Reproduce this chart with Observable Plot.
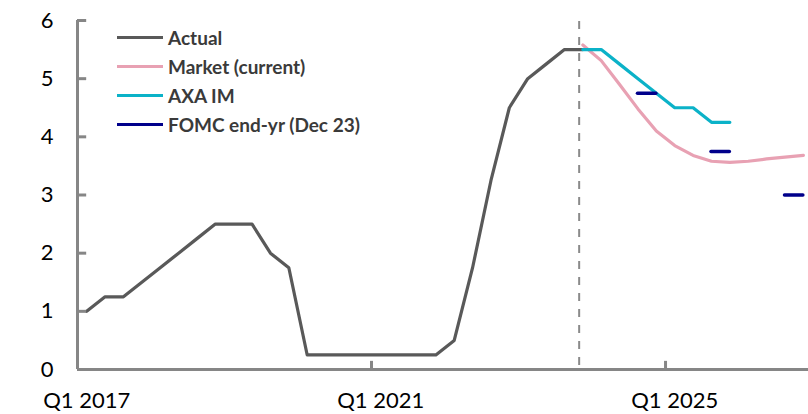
<!DOCTYPE html>
<html>
<head>
<meta charset="utf-8">
<script src="https://cdn.jsdelivr.net/npm/d3@7"></script>
<script src="https://cdn.jsdelivr.net/npm/@observablehq/plot@0.6"></script>
<style>
  html, body { margin: 0; padding: 0; background: #fff; overflow: hidden; }
  #wrap { position: relative; width: 808px; height: 414px; }
  #legend { position: absolute; left: 117px; top: 23px; font-family: Lato, sans-serif; font-weight: bold; font-size: 19px; color: #3a3a3a; }
  .row { display: flex; align-items: center; height: 29px; }
  .sw { width: 46px; height: 3px; margin-right: 5px; }
</style>
</head>
<body>
<div id="wrap"><div id="legend"></div></div>
<script>
// Categories: quarters Q1 2017 .. Q4 2026
const years = [2017, 2018, 2019, 2020, 2021, 2022, 2023, 2024, 2025, 2026];
const quarters = years.flatMap(y => [1, 2, 3, 4].map(q => `Q${q} ${y}`));

// Tick labels
const tickLabels = ["Q1 2017", "Q1 2021", "Q1 2025"];
const yTicks = [0, 1, 2, 3, 4, 5, 6];

// Series (values in %)
const actualStart = "Q1 2017";
const actual = [1.0, 1.25, 1.25, 1.5, 1.75, 2.0, 2.25, 2.5, 2.5, 2.5, 2.0, 1.75, 0.25, 0.25, 0.25, 0.25,
                0.25, 0.25, 0.25, 0.25, 0.5, 1.75, 3.25, 4.5, 5.0, 5.25, 5.5, 5.5];
const marketStart = "Q4 2023";
const market = [5.58, 5.31, 4.9, 4.48, 4.1, 3.85, 3.68, 3.58, 3.56, 3.58, 3.62, 3.65, 3.68];
const axaStart = "Q4 2023";
const axa = [5.5, 5.5, 5.25, 5.0, 4.75, 4.5, 4.5, 4.25, 4.25];
const fomcYears = ["2024", "2025", "2026"];
const fomc = [4.75, 3.75, 3.0];
const forecastLine = 26.8; // quarter index of the dashed separator

const series = [
  {name: "Actual", color: "#595959"},
  {name: "Market (current)", color: "#E8A1B3"},
  {name: "AXA IM", color: "#0BB2C8"},
  {name: "FOMC end-yr (Dec 23)", color: "#00008B"}
];

const qi = label => quarters.indexOf(label);
const toRows = (arr, start, s) => arr.map((v, i) => ({x: qi(start) + i, y: v, s}));
const actualRows = toRows(actual, actualStart, "Actual");
const marketRows = toRows(market, marketStart, "Market");
const axaRows = toRows(axa, axaStart, "AXA");
const fomcRows = fomcYears.map((y, i) => ({x1: qi(`Q3 ${y}`), x2: qi(`Q4 ${y}`), y: fomc[i]}));

const axisColor = "#868686";
const x0 = -0.5, xEnd = 39.28;
const chart = Plot.plot({
  width: 808,
  height: 414,
  marginLeft: 77,
  marginRight: 0,
  marginTop: 20,
  marginBottom: 45,
  style: {fontFamily: "Lato, sans-serif", fontSize: "22px", color: "#000", background: "transparent", overflow: "visible"},
  x: {type: "linear", domain: [x0, xEnd], label: null},
  y: {type: "linear", domain: [0, 6], label: null},
  marks: [
    Plot.ruleX([forecastLine], {x: d => d, y1: () => 0.07, y2: () => 6, stroke: "#8a8a8a", strokeWidth: 2, strokeDasharray: "8,8"}),
    Plot.line(actualRows, {x: "x", y: "y", stroke: series[0].color, strokeWidth: 3.2}),
    Plot.line(marketRows, {x: "x", y: "y", stroke: series[1].color, strokeWidth: 3.2}),
    Plot.line(axaRows, {x: "x", y: "y", stroke: series[2].color, strokeWidth: 3.2}),
    Plot.ruleY(fomcRows, {x1: "x1", x2: "x2", y: "y", stroke: series[3].color, strokeWidth: 3.5, strokeLinecap: "round"}),
    // axes
    Plot.ruleY([0], {y: d => d, x1: () => x0, x2: () => xEnd, stroke: axisColor, strokeWidth: 3}),
    Plot.ruleX([x0], {x: d => d, y1: () => 0, y2: () => 6, stroke: axisColor, strokeWidth: 3}),
    Plot.ruleY(yTicks.slice(1), {y: d => d, x1: () => x0, x2: () => x0 + 0.5, stroke: axisColor, strokeWidth: 3}),
    Plot.ruleX(tickLabels.slice(1).map(t => qi(t) - 0.5), {x: d => d, y1: () => 0, y2: () => 0.14, stroke: axisColor, strokeWidth: 3}),
    Plot.axisY({ticks: yTicks, tickSize: 0, tickPadding: 24, tickFormat: d => d, fontSize: 22, label: null}),
    Plot.axisX({ticks: tickLabels.map(qi), tickSize: 0, tickPadding: 23, tickFormat: i => quarters[i], fontSize: 22, label: null})
  ]
});
document.getElementById("wrap").prepend(chart);

const legend = document.getElementById("legend");
for (const s of series) {
  const row = document.createElement("div");
  row.className = "row";
  row.innerHTML = `<div class="sw" style="background:${s.color}"></div><span>${s.name}</span>`;
  legend.appendChild(row);
}
</script>
</body>
</html>
